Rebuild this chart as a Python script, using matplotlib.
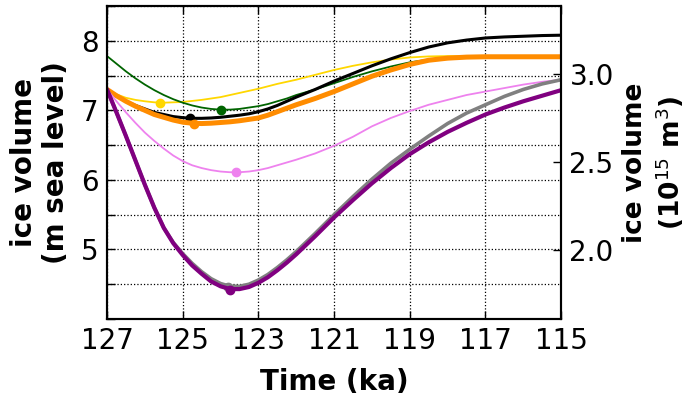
import numpy as np
import matplotlib
matplotlib.use("Agg")
import matplotlib.pyplot as plt
from matplotlib.ticker import MultipleLocator, FuncFormatter

# time axis (ka)
time = [127, 126.75, 126.5, 126.25, 126, 125.75, 125.5, 125.25, 125, 124.75, 124.5,
        124.25, 124, 123.75, 123.5, 123.25, 123, 122.75, 122.5, 122.25, 122,
        121.5, 121, 120.5, 120, 119.5, 119, 118.5, 118, 117.5, 117, 116.5, 116, 115.5, 115]

# ice volume in m sea level
gold = [7.30, 7.23, 7.18, 7.15, 7.13, 7.115, 7.11, 7.115, 7.12, 7.135, 7.15,
        7.17, 7.19, 7.22, 7.25, 7.28, 7.31, 7.345, 7.38, 7.41, 7.44,
        7.51, 7.58, 7.64, 7.69, 7.73, 7.76, 7.775, 7.78, 7.78, 7.78, 7.78, 7.78, 7.78, 7.78]
green = [7.78, 7.67, 7.56, 7.46, 7.37, 7.29, 7.22, 7.16, 7.11, 7.07, 7.04,
         7.02, 7.01, 7.01, 7.02, 7.04, 7.06, 7.09, 7.13, 7.17, 7.22,
         7.30, 7.39, 7.48, 7.56, 7.63, 7.69, 7.73, 7.755, 7.77, 7.77, 7.77, 7.77, 7.77, 7.77]
black = [7.30, 7.21, 7.13, 7.07, 7.02, 6.97, 6.94, 6.91, 6.895, 6.885, 6.885,
         6.89, 6.90, 6.915, 6.93, 6.95, 6.98, 7.02, 7.07, 7.13, 7.19,
         7.30, 7.42, 7.53, 7.64, 7.74, 7.83, 7.91, 7.97, 8.01, 8.04, 8.055, 8.065, 8.075, 8.08]
orange = [7.30, 7.21, 7.13, 7.06, 7.00, 6.94, 6.90, 6.86, 6.83, 6.815, 6.81,
          6.815, 6.825, 6.835, 6.85, 6.87, 6.89, 6.93, 6.98, 7.03, 7.08,
          7.17, 7.27, 7.38, 7.49, 7.58, 7.66, 7.72, 7.75, 7.765, 7.77, 7.77, 7.77, 7.77, 7.77]
violet = [7.30, 7.13, 6.97, 6.82, 6.68, 6.56, 6.45, 6.35, 6.27, 6.21, 6.17,
          6.14, 6.12, 6.11, 6.11, 6.12, 6.14, 6.17, 6.21, 6.25, 6.29,
          6.38, 6.49, 6.62, 6.77, 6.89, 6.99, 7.08, 7.15, 7.22, 7.27, 7.32, 7.37, 7.41, 7.44]
grey = [7.30, 6.97, 6.63, 6.28, 5.93, 5.60, 5.31, 5.10, 4.94, 4.80, 4.68,
        4.58, 4.51, 4.47, 4.47, 4.50, 4.56, 4.64, 4.74, 4.85, 4.97,
        5.23, 5.50, 5.76, 6.01, 6.24, 6.44, 6.63, 6.81, 6.96, 7.08, 7.20, 7.30, 7.38, 7.44]
purple = [7.30, 6.97, 6.63, 6.28, 5.93, 5.60, 5.31, 5.09, 4.92, 4.77, 4.65,
          4.54, 4.47, 4.43, 4.43, 4.46, 4.52, 4.60, 4.70, 4.81, 4.93,
          5.19, 5.46, 5.71, 5.95, 6.17, 6.37, 6.54, 6.69, 6.82, 6.94, 7.04, 7.13, 7.21, 7.29]

# minima markers (time, value)
min_gold = (125.6, 7.11)
min_green = (124.0, 7.01)
min_black = (124.8, 6.885)
min_orange = (124.7, 6.81)
min_violet = (123.6, 6.11)
min_grey = (123.8, 4.46)
min_purple = (123.75, 4.42)

xticks = [127, 125, 123, 121, 119, 117, 115]
left_labels = [5, 6, 7, 8]
right_ticks = [2.0, 2.5, 3.0]

fig = plt.figure(figsize=(6.86, 3.99), dpi=100)
ax = fig.add_axes([0.156, 0.2005, 0.662, 0.7845])

series = [
    (gold, min_gold, 'gold', 1.3),
    (green, min_green, 'darkgreen', 1.3),
    (black, min_black, 'black', 2.2),
    (orange, min_orange, 'darkorange', 3.6),
    (violet, min_violet, 'violet', 1.3),
    (grey, min_grey, 'grey', 2.6),
    (purple, min_purple, 'purple', 3.0),
]
for vals, mn, col, lw in series:
    ax.plot(time, vals, color=col, lw=lw, solid_capstyle='round', solid_joinstyle='round')
    ax.plot([mn[0]], [mn[1]], 'o', color=col, ms=6, mec=col)

ax.set_xlim(127, 115)
ax.set_ylim(4.0, 8.5)
ax.set_xticks(xticks)
ax.set_xticklabels([str(t) for t in xticks])
ax.yaxis.set_major_locator(MultipleLocator(0.5))


def fmt(v, p):
    r = int(round(v))
    if abs(v - r) < 1e-6 and r in left_labels:
        return str(r)
    return ""


ax.yaxis.set_major_formatter(FuncFormatter(fmt))
ax.grid(True, color='k', linestyle=':', linewidth=0.9)
ax.tick_params(direction='in', length=6, width=1, labelsize=20, top=True, right=False, pad=6)
for s in ax.spines.values():
    s.set_linewidth(1.5)

ax.set_xlabel('Time (ka)', fontsize=20, fontweight='bold', labelpad=9)
ax.set_ylabel('ice volume\n(m sea level)', fontsize=20, fontweight='bold', labelpad=8)

ax2 = ax.twinx()
ax2.set_ylim((4.0 + 0.084) / 2.537, (8.5 + 0.084) / 2.537)
ax2.set_yticks(right_ticks)
ax2.set_yticklabels([f"{v:.1f}" for v in right_ticks])
ax2.tick_params(direction='in', length=6, width=1, labelsize=20, pad=6)
ax2.set_ylabel('ice volume\n(10$^{15}$ m$^{3}$)', fontsize=19, fontweight='bold')
ax2.yaxis.set_label_coords(1.134, 0.5)
for s in ax2.spines.values():
    s.set_linewidth(1.5)

fig.savefig('out.png', dpi=100)
